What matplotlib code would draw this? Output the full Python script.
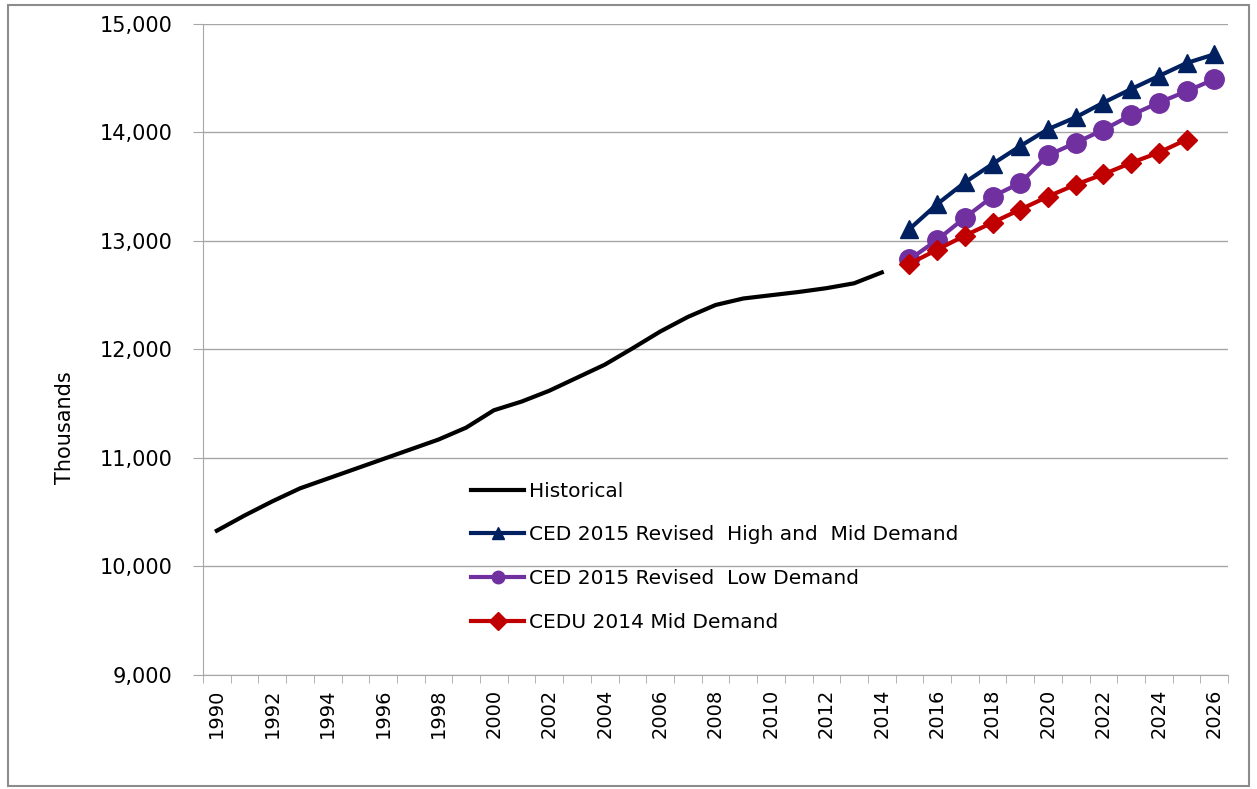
import matplotlib.pyplot as plt
from matplotlib.patches import Rectangle

# years on the category axis
years = list(range(1990, 2027))

# historical values (1990-2014)
hist_years = list(range(1990, 2015))
hist_vals = [10330, 10470, 10600, 10720, 10810, 10900, 10990, 11080, 11170, 11280,
             11440, 11520, 11620, 11740, 11860, 12010, 12165, 12300, 12410, 12470,
             12500, 12530, 12565, 12610, 12710]

# forecasts
fc_years = list(range(2015, 2027))
high_mid = [13110, 13340, 13540, 13710, 13875, 14030, 14140, 14275, 14400, 14520, 14640, 14720]
low = [12830, 13010, 13215, 13410, 13535, 13790, 13905, 14025, 14160, 14275, 14380, 14490]
cedu_years = list(range(2015, 2026))
cedu_mid = [12790, 12920, 13050, 13170, 13290, 13410, 13520, 13615, 13720, 13815, 13935]

labels = ["Historical", "CED 2015 Revised  High and  Mid Demand",
          "CED 2015 Revised  Low Demand", "CEDU 2014 Mid Demand"]

plt.rcParams['font.family'] = ['DejaVu Sans']

fig = plt.figure(figsize=(12.57, 7.89), dpi=100)
ax = fig.add_axes([0.1615, 0.1445, 0.8155, 0.8251])

def pos(yrs):
    return [y - years[0] for y in yrs]

ax.plot(pos(hist_years), hist_vals, color="black", lw=3, label=labels[0], zorder=3)
ax.plot(pos(fc_years), high_mid, color="#002060", lw=3, marker="^", ms=13,
        label=labels[1], zorder=4)
ax.plot(pos(fc_years), low, color="#7030A0", lw=3, marker="o", ms=14,
        label=labels[2], zorder=4)
ax.plot(pos(cedu_years), cedu_mid, color="#C00000", lw=3, marker="D", ms=10,
        label=labels[3], zorder=5)

ax.set_xlim(-0.5, len(years) - 0.5)
ax.set_ylim(9000, 15000)
ax.set_yticks(range(9000, 15001, 1000))
ax.set_yticklabels([f"{v:,}" for v in range(9000, 15001, 1000)], fontsize=15)
ax.yaxis.grid(True, color="#a6a6a6", lw=1)
ax.set_axisbelow(True)

ax.set_xticks([i for i in range(len(years)) if i % 2 == 0])
ax.set_xticklabels([str(y) for i, y in enumerate(years) if i % 2 == 0],
                   rotation=90, fontsize=14)
ax.set_xticks([i - 0.5 for i in range(len(years) + 1)], minor=True)
ax.tick_params(axis="x", which="major", length=0, pad=10)
ax.tick_params(axis="x", which="minor", length=6, color="#a6a6a6")
ax.tick_params(axis="y", length=7, color="#a6a6a6", pad=15)

for s in ["top", "right"]:
    ax.spines[s].set_visible(False)
for s in ["left", "bottom"]:
    ax.spines[s].set_color("#a6a6a6")

ax.set_ylabel("Thousands", fontsize=15)
ax.yaxis.set_label_coords(-0.125, 0.38)

leg = ax.legend(loc="upper left", bbox_to_anchor=(0.254, 0.309), frameon=False,
                fontsize=14.5, handlelength=2.6, handletextpad=0.25, labelspacing=1.22,
                borderaxespad=0)
for h in leg.legend_handles[1:]:
    h.set_markersize(9)

fig.patches.append(Rectangle((0.006, 0.004), 0.988, 0.99, transform=fig.transFigure,
                             fill=False, edgecolor="#8c8c8c", lw=1.5))

plt.savefig("out.png", dpi=100)
